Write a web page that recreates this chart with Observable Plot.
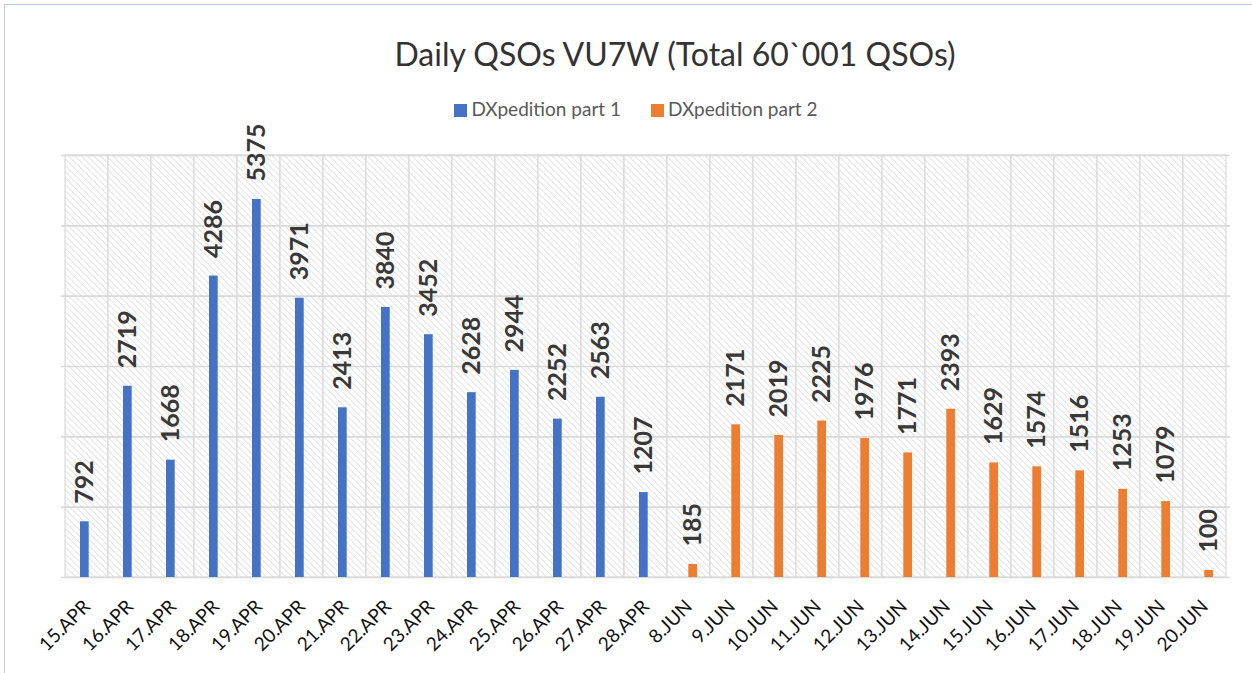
<!DOCTYPE html>
<html>
<head>
<meta charset="utf-8">
<script src="https://cdn.jsdelivr.net/npm/d3@7"></script>
<script src="https://cdn.jsdelivr.net/npm/@observablehq/plot@0.6"></script>
<style>
  html, body { margin: 0; padding: 0; background: #fff; }
  #wrap { position: relative; width: 1252px; height: 673px; overflow: hidden; font-family: Lato, "Open Sans", sans-serif; }
  #frame { position: absolute; left: 4px; top: 4px; width: 1260px; height: 680px; border: 1px solid #c8ccd4; border-top-color: #b9cbe0; }
  #title { position: absolute; top: 35px; left: 0; width: 1350px; text-align: center; font-size: 32px; color: #333; line-height: 38px; }
  #legend { position: absolute; top: 97px; left: 0; width: 1272px; text-align: center; font-size: 19px; color: #595959; line-height: 24px; }
  #legend span.sw { display: inline-block; width: 13px; height: 13px; margin-right: 4px; vertical-align: -1px; }
  #legend span.item { margin: 0 15px; }
  #chart { position: absolute; top: 120px; left: 0; }
</style>
</head>
<body>
<svg width="0" height="0" style="position:absolute">
  <defs>
    <pattern id="hatch" patternUnits="userSpaceOnUse" width="4.5" height="4.5" patternTransform="rotate(-45)">
      <rect width="4.5" height="4.5" fill="#ffffff"></rect>
      <line x1="0" y1="0" x2="0" y2="4.5" stroke="#e2e2e2" stroke-width="2"></line>
    </pattern>
  </defs>
</svg>
<div id="wrap">
  <div id="frame"></div>
  <div id="title">Daily QSOs VU7W (Total 60`001 QSOs)</div>
  <div id="legend"><span class="item"><span class="sw" style="background:#4472C4"></span>DXpedition part 1</span><span class="item"><span class="sw" style="background:#ED7D31"></span>DXpedition part 2</span></div>
  <div id="chart"></div>
</div>
<script>
const part1Days = ["15.APR","16.APR","17.APR","18.APR","19.APR","20.APR","21.APR","22.APR","23.APR","24.APR","25.APR","26.APR","27.APR","28.APR"];
const part1Values = [792,2719,1668,4286,5375,3971,2413,3840,3452,2628,2944,2252,2563,1207];
const part2Days = ["8.JUN","9.JUN","10.JUN","11.JUN","12.JUN","13.JUN","14.JUN","15.JUN","16.JUN","17.JUN","18.JUN","19.JUN","20.JUN"];
const part2Values = [185,2171,2019,2225,1976,1771,2393,1629,1574,1516,1253,1079,100];
const yTicks = [0,1000,2000,3000,4000,5000,6000];

const allDays = part1Days.concat(part2Days);
const part1 = part1Days.map((d, i) => ({day: d, value: part1Values[i]}));
const part2 = part2Days.map((d, i) => ({day: d, value: part2Values[i]}));

const chart = Plot.plot({
  width: 1252,
  height: 550,
  marginLeft: 61,
  marginRight: 22,
  marginTop: 35,
  marginBottom: 93,
  style: {fontFamily: "Lato, 'Open Sans', sans-serif", color: "#111", background: "transparent"},
  x: {domain: allDays, padding: 0, label: null, tickSize: 0, tickPadding: 26, tickRotate: -45},
  y: {domain: [0, 6000], axis: null},
  marks: [
    Plot.barY(allDays, {x: d => d, y1: 0, y2: 6000, fill: "url(#hatch)", stroke: "#d9d9d9", strokeWidth: 1.2}),
    Plot.gridY(yTicks, {stroke: "#d9d9d9", strokeOpacity: 1, strokeWidth: 1.6}),
    Plot.barY(part1, {x: "day", y: "value", fill: "#4472C4", insetLeft: 15, insetRight: 19.3}),
    Plot.barY(part2, {x: "day", y: "value", fill: "#ED7D31", insetLeft: 21.3, insetRight: 13}),
    Plot.text(part1, {x: "day", y: "value", text: d => String(d.value), rotate: -90, textAnchor: "start", dx: -2, dy: -18, fontSize: 25, fontWeight: "bold", fill: "#383838"}),
    Plot.text(part2, {x: "day", y: "value", text: d => String(d.value), rotate: -90, textAnchor: "start", dx: 4, dy: -18, fontSize: 25, fontWeight: "bold", fill: "#383838"}),
    Plot.axisX({tickSize: 0, tickPadding: 26, tickRotate: -45, fontSize: 19, label: null})
  ]
});
document.getElementById("chart").appendChild(chart);
</script>
</body>
</html>
